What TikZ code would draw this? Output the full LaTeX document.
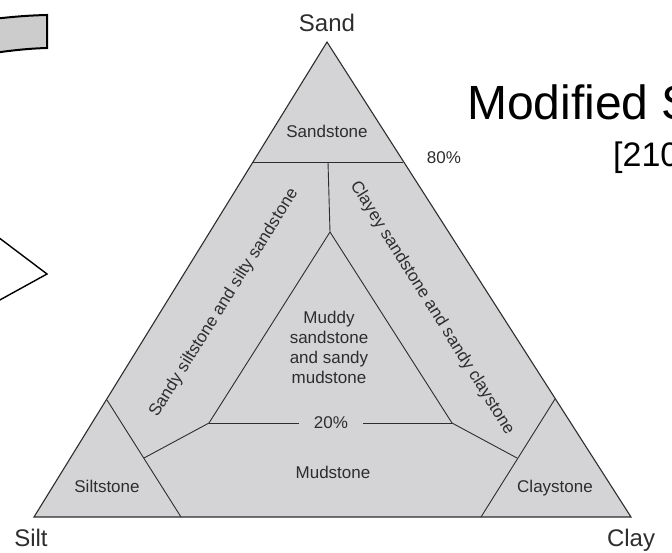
\documentclass[tikz,border=0pt]{standalone}
\usepackage{fontspec}
\setmainfont{Liberation Sans}
\definecolor{rockfill}{RGB}{212,212,214}
\definecolor{rockline}{RGB}{45,45,45}
\definecolor{tabgray}{RGB}{204,204,204}

\begin{document}
\begin{tikzpicture}[x=1pt, y=-1pt,
    zone/.style={fill=rockfill},
    rim/.style={draw=rockline, line width=1.1pt, line join=miter},
    split/.style={draw=rockline, line width=0.9pt},
    rock/.style={text=rockline, font=\fontsize{17}{20}\selectfont, inner sep=0pt, align=center},
    corner/.style={text=rockline, font=\fontsize{24}{28}\selectfont, inner sep=0pt, anchor=base}]
  \useasboundingbox (0,0) rectangle (672,553);
  \clip (0,0) rectangle (672,553);

  % Pieces of the slide on the left
  \fill[tabgray, draw=black, line width=2pt] (-5,18.8) .. controls (15,16.5) and (30,15.4) .. (47,15)
    -- (47,48) .. controls (30,48.5) and (15,50) .. (-5,52.8) -- cycle;
  \draw[black, line width=1.4pt] (-2,237) -- (47,274) -- (-2,301);

  % Corners of the triangle
  \coordinate (sa) at (327,42);
  \coordinate (si) at (34,517);
  \coordinate (cl) at (631,517);

  % Class boundaries
  \coordinate (s1) at (253,162);
  \coordinate (s2) at (403,162);
  \coordinate (sm) at (328,162);
  \coordinate (it) at (330,232);
  \coordinate (il) at (209,423);
  \coordinate (ir) at (452,423);
  \coordinate (l1) at (107,400);
  \coordinate (l2) at (181,517);
  \coordinate (lm) at (144,458);
  \coordinate (r1) at (555,399);
  \coordinate (r2) at (481,517);
  \coordinate (rm) at (517,458);

  \fill[zone] (sa) -- (si) -- (cl) -- cycle;

  % Labels
  \node[corner] (sand) at (327,32) {Sand};
  \node[corner] (silt) at (31,546) {Silt};
  \node[corner] (clay) at (631,546) {Clay};
  \node[rock, anchor=base] (sst) at (327,138) {Sandstone};
  \node[rock, anchor=base] (p80) at (444,164) {80\%};
  \node[rock, rotate=58] (left) at (224,303) {Sandy siltstone and silty sandstone};
  \node[rock, rotate=-58] (right) at (432,308) {Clayey sandstone and sandy claystone};
  \node[rock] (muddy) at (329,347) {Muddy\\sandstone\\and sandy\\mudstone};
  \node[rock, inner xsep=15pt] (p20) at (331,423) {20\%};
  \node[rock, anchor=base] (mud) at (333,478) {Mudstone};
  \node[rock, anchor=base] (silst) at (107,492) {Siltstone};
  \node[rock, anchor=base] (clst) at (555,492) {Claystone};

  \draw[rim] (sa) -- (si) -- (cl) -- cycle;
  \draw[split] (s1) -- (s2);
  \draw[split] (sm) -- (it);
  \draw[split] (it) -- (il);
  \draw[split] (it) -- (ir);
  \draw[split] (il) -- (p20.west);
  \draw[split] (p20.east) -- (ir);
  \draw[split] (l1) -- (l2);
  \draw[split] (il) -- (lm);
  \draw[split] (r1) -- (r2);
  \draw[split] (ir) -- (rm);

  % Title
  \node[anchor=base west, inner sep=0pt, font=\fontsize{48}{52}\selectfont] (title) at (467,120) {Modified S};
  \node[anchor=base west, inner sep=0pt, font=\fontsize{34}{38}\selectfont] (ref) at (613,167) {[210};
\end{tikzpicture}
\end{document}
